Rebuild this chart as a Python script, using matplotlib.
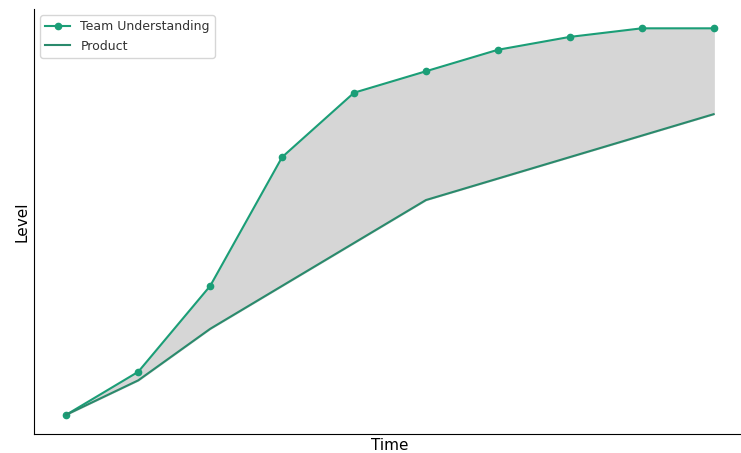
import matplotlib.pyplot as plt

time = [1, 2, 3, 4, 5, 6, 7, 8, 9, 10]
team_understanding = [1, 2, 4, 7, 8.5, 9, 9.5, 9.8, 10, 10]
product = [1, 1.8, 3, 4, 5, 6, 6.5, 7, 7.5, 8]

fig = plt.figure(figsize=(7.41, 4.53), dpi=100)
ax = fig.add_axes([34 / 741, 19 / 453, 712 / 741, 425 / 453])

ax.fill_between(time, product, team_understanding, color="#d6d6d6")
ax.plot(time, team_understanding, color="#1b9e77", marker="o", markersize=4.5,
        linewidth=1.5, label="Team Understanding")
ax.plot(time, product, color="#2a8a6c", linewidth=1.5, label="Product")

ax.set_xticks([])
ax.set_yticks([])
ax.set_xlabel("Time", fontsize=11, labelpad=3)
ax.set_ylabel("Level", fontsize=11, labelpad=3)
ax.spines["top"].set_visible(False)
ax.spines["right"].set_visible(False)
leg = ax.legend(loc="upper left", fontsize=9)
for t in leg.get_texts():
    t.set_color("#333333")

fig.savefig("out.png", dpi=100)
